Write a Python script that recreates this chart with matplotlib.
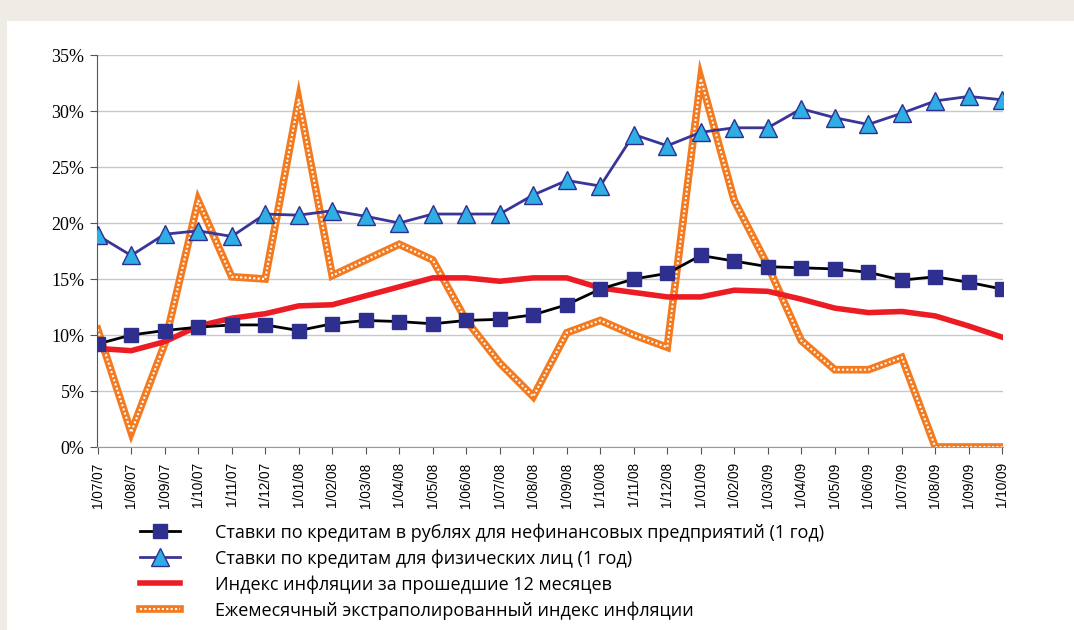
import matplotlib
matplotlib.use("Agg")
import matplotlib.pyplot as plt
from matplotlib.patches import Rectangle
from matplotlib import font_manager

dates = ["1/07/07", "1/08/07", "1/09/07", "1/10/07", "1/11/07", "1/12/07",
         "1/01/08", "1/02/08", "1/03/08", "1/04/08", "1/05/08", "1/06/08",
         "1/07/08", "1/08/08", "1/09/08", "1/10/08", "1/11/08", "1/12/08",
         "1/01/09", "1/02/09", "1/03/09", "1/04/09", "1/05/09", "1/06/09",
         "1/07/09", "1/08/09", "1/09/09", "1/10/09"]

firms = [9.2, 10.0, 10.4, 10.7, 10.9, 10.9, 10.4, 11.0, 11.3, 11.2, 11.0, 11.3,
         11.4, 11.8, 12.7, 14.1, 15.0, 15.5, 17.1, 16.6, 16.1, 16.0, 15.9, 15.6,
         14.9, 15.2, 14.7, 14.1]

individuals = [18.9, 17.1, 19.0, 19.3, 18.8, 20.8, 20.7, 21.1, 20.6, 20.0, 20.8, 20.8,
               20.8, 22.5, 23.8, 23.3, 27.9, 26.9, 28.1, 28.5, 28.5, 30.2, 29.4, 28.8,
               29.8, 30.9, 31.3, 31.0]

infl12 = [8.8, 8.6, 9.4, 10.8, 11.5, 11.9, 12.6, 12.7, 13.5, 14.3, 15.1, 15.1,
          14.8, 15.1, 15.1, 14.2, 13.8, 13.4, 13.4, 14.0, 13.9, 13.2, 12.4, 12.0,
          12.1, 11.7, 10.8, 9.8]

monthly = [10.5, 1.3, 9.2, 22.0, 15.2, 15.0, 31.0, 15.3, 16.7, 18.1, 16.7, 11.3,
           7.5, 4.5, 10.2, 11.3, 10.0, 8.9, 32.9, 22.0, 16.2, 9.5, 6.9, 6.9,
           8.0, 0.0, 0.0, 0.0]

labels = ["Ставки по кредитам в рублях для нефинансовых предприятий (1 год)",
          "Ставки по кредитам для физических лиц (1 год)",
          "Индекс инфляции за прошедшие 12 месяцев",
          "Ежемесячный экстраполированный индекс инфляции"]

installed = {f.name for f in font_manager.fontManager.ttflist}
xfont = "Liberation Sans Narrow" if "Liberation Sans Narrow" in installed else "Liberation Sans"
xsize = 11.3 if xfont == "Liberation Sans Narrow" else 9.8

W, H = 1074, 630
fig = plt.figure(figsize=(W / 100, H / 100), dpi=100)
fig.patch.set_facecolor("#efebe5")
fig.patches.append(Rectangle((7 / W, 0), 1, 1 - 21 / H, transform=fig.transFigure,
                             facecolor="white", edgecolor="none", zorder=-10))

ax = fig.add_axes([97 / W, 1 - 447 / H, (1003 - 97) / W, (447 - 55) / H])
ax.set_facecolor("none")
ax.set_zorder(1)
x = list(range(len(dates)))

orange = "#f47a20"
o1, = ax.plot(x, monthly, color=orange, lw=5.5, solid_joinstyle="miter", zorder=2)
o2, = ax.plot(x, monthly, color="white", lw=1.5, ls=(0, (1.0, 1.1)), zorder=2.1)
r, = ax.plot(x, infl12, color="#ec1c24", lw=4, zorder=3)
b, = ax.plot(x, firms, color="black", lw=2, marker="s", ms=10,
             markerfacecolor="#2e2f8f", markeredgecolor="#2e2f8f", zorder=4)
t, = ax.plot(x, individuals, color="#3a3596", lw=2, marker="^", ms=13,
             markerfacecolor="#2eaee4", markeredgecolor="#2e2f8f", markeredgewidth=1, zorder=5)

ax.set_xlim(-0.02, len(dates) - 1 + 0.02)
ax.set_ylim(0, 35)
ax.set_yticks(range(0, 36, 5))
ax.set_yticklabels([f"{v}%" for v in range(0, 36, 5)], fontfamily="Liberation Serif", fontsize=13)
ax.set_xticks(x)
ax.set_xticklabels(dates, rotation=90, fontfamily=xfont, fontsize=xsize)
ax.grid(axis="y", color="#c8c8c8", lw=1)
ax.set_axisbelow(True)
for s in ["top", "right"]:
    ax.spines[s].set_visible(False)
ax.spines["left"].set_color("#555555")
ax.spines["bottom"].set_color("#999999")
ax.tick_params(axis="both", direction="out", length=5, color="#555555", pad=4)
ax.tick_params(axis="x", pad=6)

leg = fig.legend([b, t, r, (o1, o2)], labels, loc="upper left",
                 bbox_to_anchor=(140 / W, 1 - 523 / H), frameon=False,
                 prop={"family": "Open Sans", "size": 13},
                 handlelength=2.2, handletextpad=1.95, labelspacing=0.42,
                 borderpad=0, borderaxespad=0)

fig.savefig("out.png", dpi=100, facecolor=fig.get_facecolor())
